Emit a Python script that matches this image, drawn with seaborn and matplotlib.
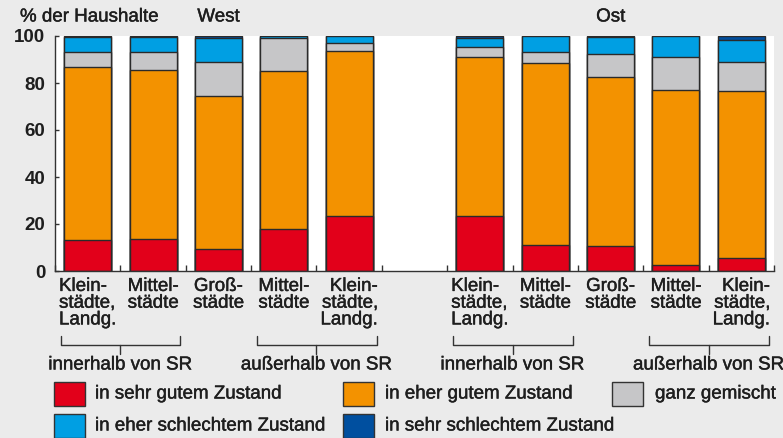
import seaborn as sns
import matplotlib.pyplot as plt
import matplotlib.patheffects as pe
import pandas as pd
from matplotlib.lines import Line2D
from matplotlib.patches import Rectangle

# Zustand der Gebaeude in % der Haushalte (je Balken, West 1-5, Ost 1-5)
bars = ["W1", "W2", "W3", "W4", "W5", "O1", "O2", "O3", "O4", "O5"]
sehr_gut = [13, 13.5, 9.5, 18, 23.5, 23.5, 11, 10.5, 2.5, 5.5]
eher_gut = [74, 72, 65, 67, 70, 67.5, 77.5, 72, 74.5, 71]
gemischt = [6, 7.5, 14.5, 14, 3.5, 4.5, 4.5, 10, 14, 12.5]
eher_schlecht = [6.5, 6.5, 10, 0.8, 3, 3.5, 7, 7, 9, 9.5]
sehr_schlecht = [0.5, 0.5, 1, 0.2, 0, 1, 0, 0.5, 0, 1.5]

bar_labels = ["Klein-\nstädte,\nLandg.", "Mittel-\nstädte", "Groß-\nstädte",
              "Mittel-\nstädte", "Klein-\nstädte,\nLandg."] * 2
label_align = ["left", "center", "center", "center", "right"] * 2
groups = ["innerhalb von SR", "außerhalb von SR"] * 2
regions = ["West", "Ost"]

legend_labels = ["in sehr gutem Zustand", "in eher gutem Zustand", "ganz gemischt",
                 "in eher schlechtem Zustand", "in sehr schlechtem Zustand"]
colors = ["#e2001a", "#f39200", "#c6c6c8", "#009fe3", "#004f9f"]

df = pd.DataFrame({"bar": bars, "s1": sehr_gut, "s2": eher_gut, "s3": gemischt,
                   "s4": eher_schlecht, "s5": sehr_schlecht})
layers = ["s1", "s2", "s3", "s4", "s5"]
order = bars[:5] + ["gap"] + bars[5:]

sns.set_theme(style="white")
plt.rcParams["font.family"] = ["Liberation Sans", "DejaVu Sans"]
text_col = "#1e1e1e"
fs = 13.5
# a hair of stroke so the regular face reads like the medium weight of the original
medium = [pe.withStroke(linewidth=0.3, foreground=text_col)]

W, H = 783, 438
fig = plt.figure(figsize=(W / 100, H / 100), dpi=100, facecolor="#ebebeb")
ax = fig.add_axes([55 / W, 1 - 271 / H, (774 - 55) / W, (271 - 36) / H])
ax.set_facecolor("white")

# stacked bars: draw cumulative totals from the top layer down
for k in range(len(layers) - 1, -1, -1):
    df["cum"] = df[layers[:k + 1]].sum(axis=1)
    sns.barplot(data=df, x="bar", y="cum", order=order, color=colors[k],
                saturation=1, width=0.72, edgecolor="#2a2a2a", linewidth=1.0,
                errorbar=None, ax=ax)

ax.set_ylim(0, 100)
ax.set_xlim(-0.5, 10.5)
ax.set_xlabel("")
ax.set_ylabel("")
ax.set_yticks(range(0, 101, 20))
ax.tick_params(axis="y", direction="in", length=3, width=1, color="#333333",
               pad=7, labelsize=13.5, labelcolor=text_col, left=True)
for t in ax.get_yticklabels():
    t.set_fontweight("bold")

xpos = [i for i in range(11) if i != 5]
ax.set_xticks(xpos)
ax.set_xticklabels(bar_labels, fontsize=fs, color=text_col, linespacing=0.98,
                   va="top")
for t, a in zip(ax.get_xticklabels(), label_align):
    t.set_multialignment(a)
    t.set_path_effects(medium)
ax.tick_params(axis="x", which="major", length=0, pad=5)
ax.set_xticks([i + 0.5 for i in range(-1, 11)], minor=True)
ax.tick_params(axis="x", which="minor", direction="in", length=4, width=1,
               color="#333333", bottom=True)

for s in ["top", "right"]:
    ax.spines[s].set_visible(False)
for s in ["left", "bottom"]:
    ax.spines[s].set_color("#333333")
    ax.spines[s].set_linewidth(1)

# group brackets below the category labels
bt = ax.get_xaxis_transform()
for (a, b), g in zip([(0, 1), (3, 4), (6, 7), (9, 10)], groups):
    x0, x1, xm = a - 0.41, b + 0.42, (a + b) / 2
    ax.add_line(Line2D([x0, x0, x1, x1], [-0.277, -0.315, -0.315, -0.277],
                       transform=bt, clip_on=False, color="#333333", lw=1))
    ax.add_line(Line2D([xm, xm], [-0.315, -0.353], transform=bt, clip_on=False,
                       color="#333333", lw=1))
    ax.text(xm, -0.40, g, transform=bt, ha="center", va="center", fontsize=fs,
            color=text_col, path_effects=medium)

# headers
fig.text(20 / W, 1 - 17 / H, "% der Haushalte", ha="left", va="center",
         fontsize=fs, color=text_col, path_effects=medium)
for x, r in zip([2, 8], regions):
    ax.text(x, 1.081, r, transform=bt, ha="center", va="center", fontsize=fs,
            color=text_col, path_effects=medium)

# legend
spots = [(54, 95, 394), (343, 385, 394), (612, 655, 394),
         (54, 95, 426), (343, 385, 426)]
for (px, tx, py), lab, c in zip(spots, legend_labels, colors):
    fig.add_artist(Rectangle((px / W, 1 - (py + 12) / H), 31 / W, 24 / H,
                             transform=fig.transFigure, facecolor=c,
                             edgecolor="#333333", linewidth=1))
    fig.text(tx / W, 1 - py / H, lab, ha="left", va="center", fontsize=fs,
             color=text_col, path_effects=medium)

fig.savefig("out.png", dpi=100, facecolor=fig.get_facecolor())
